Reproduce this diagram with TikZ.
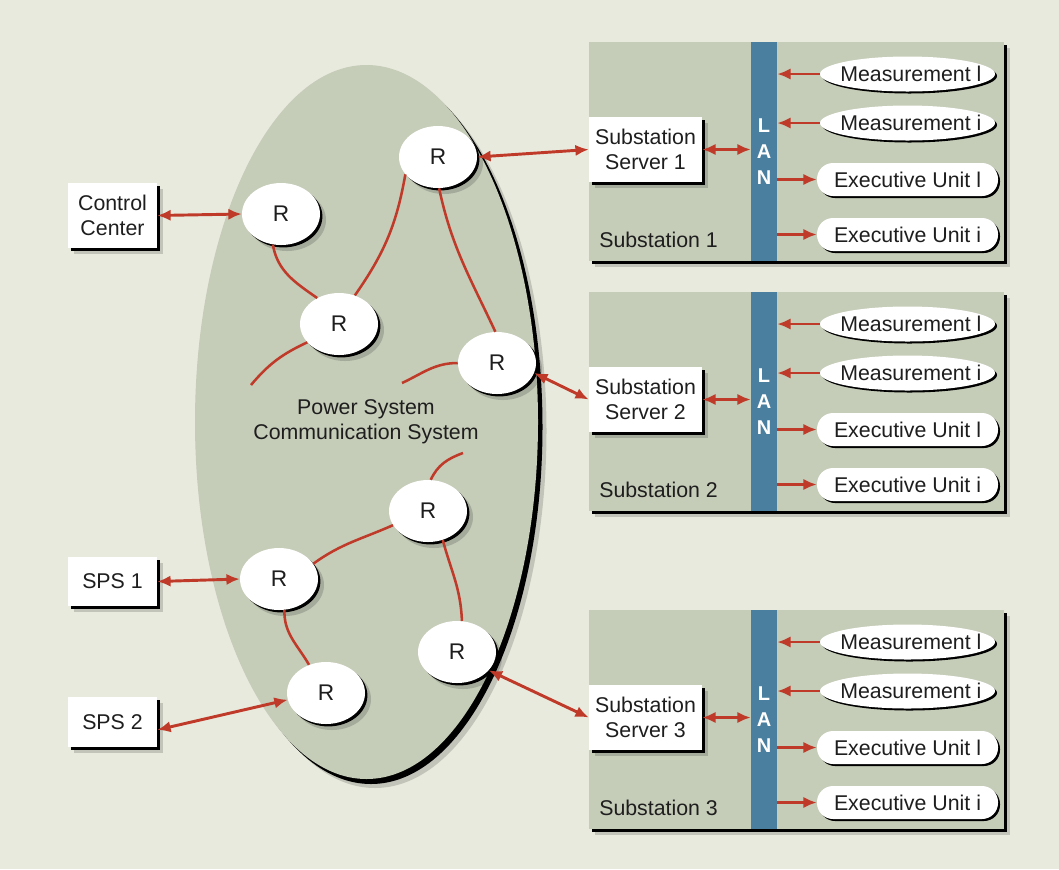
\documentclass[tikz,border=0pt]{standalone}
\usepackage{fontspec}
\setmainfont{Liberation Sans}
\usetikzlibrary{shapes.geometric,arrows.meta,shadows}
\definecolor{bgc}{RGB}{232,234,221}
\definecolor{grn}{RGB}{197,204,184}
\definecolor{lanc}{RGB}{74,127,160}
\definecolor{redc}{RGB}{192,58,42}
\definecolor{txt}{RGB}{30,30,30}
\newcommand\myfs{\fontsize{16}{18.75}\selectfont}
\tikzset{
  softsh/.style={drop shadow={shadow xshift=4.5pt,shadow yshift=-4.5pt,fill=black,opacity=0.16}},
  hardsh/.style={drop shadow={shadow xshift=#1,shadow yshift=-#1,fill=black,opacity=1}},
  rnode/.style={ellipse,fill=white,inner sep=0pt,minimum width=58.5pt,minimum height=46.5pt,
    font=\fontsize{17}{20}\selectfont,text=txt,softsh,hardsh=1.8pt},
  wbox/.style={rectangle,fill=white,inner sep=0pt,minimum width=66.75pt,align=center,
    font=\myfs,text=txt,softsh,hardsh=2.2pt},
  srvbox/.style={rectangle,fill=white,inner sep=0pt,minimum width=84.75pt,minimum height=48.75pt,
    align=center,font=\myfs,text=txt,softsh,hardsh=2.2pt},
  panel/.style={rectangle,fill=grn,inner sep=0pt,minimum width=311.25pt,minimum height=164.25pt,
    softsh,hardsh=2.2pt},
  lanbar/.style={rectangle,fill=lanc,inner sep=0pt,minimum width=19.5pt,minimum height=164.25pt,
    align=center,text=white,font=\fontsize{15}{19.5}\selectfont\bfseries},
  meas/.style={ellipse,fill=white,inner sep=0pt,minimum width=131.25pt,minimum height=26.25pt,
    hardsh=1.5pt,label={[font=\myfs,text=txt,xshift=2.5pt]center:#1}},
  exec/.style={rectangle,rounded corners=12pt,fill=white,inner sep=0pt,minimum width=135.75pt,
    minimum height=24.75pt,font=\myfs,text=txt,hardsh=1.5pt},
  lbl/.style={font=\myfs,text=txt,inner sep=0pt,align=center},
  link/.style={redc,line width=1.9pt},
  arr/.style={redc,line width=2.2pt,-{Latex[length=10pt,width=8.5pt]}},
  darr/.style={redc,line width=2.2pt,{Latex[length=10pt,width=8.5pt]}-{Latex[length=10pt,width=8.5pt]}},
}
\begin{document}
\begin{tikzpicture}[x=0.75pt,y=-0.75pt]
\useasboundingbox (0,0) rectangle (1059,869);
\fill[bgc] (0,0) rectangle (1059,869);

% big ellipse with shadows
\fill[black,opacity=0.16] (375,431) ellipse (171.5 and 357);
\fill[black] (371,427) ellipse (171.5 and 357);
\fill[grn] (366.5,422) ellipse (171.5 and 357);
\node[lbl] (pscs) at (366,422) {Power System\\Communication System};

% routers
\node[rnode] (Ra) at (281,214) {R};
\node[rnode] (Rb) at (438,157) {R};
\node[rnode] (Rc) at (339,324) {R};
\node[rnode] (Rd) at (497,363) {R};
\node[rnode] (Re) at (428,511) {R};
\node[rnode] (Rf) at (279,579) {R};
\node[rnode] (Rg) at (457,652) {R};
\node[rnode] (Rh) at (326,693) {R};
\coordinate (f1) at (251,385);
\coordinate (f2) at (402,383);
\coordinate (f3) at (463,453);

\draw[link] (Ra.-105) to[out=-80,in=145] (Rc.130);
\draw[link] (Rc.61) to[out=55,in=-100] (Rb.208);
\draw[link] (Rb.-88) to[out=-78,in=115] (Rd.93);
\draw[link] (Rc.210) to[out=205,in=50] (f1);
\draw[link] (Rd.180) to[out=180,in=25] (f2);
\draw[link] (f3) to[out=200,in=65] (Re.85);
\draw[link] (Re.202) to[out=204,in=36] (Rf.24);
\draw[link] (Re.-63) to[out=-75,in=92] (Rg.81);
\draw[link] (Rf.-80) to[out=-92,in=120] (Rh.121);

% left boxes
\node[wbox,minimum height=48.75pt] (cc) at (112.5,215.5) {Control\\Center};
\node[wbox,minimum height=36.75pt] (sps1) at (112.5,581.5) {SPS 1};
\node[wbox,minimum height=37.5pt] (sps2) at (112.5,722) {SPS 2};
\draw[darr] (cc.east) -- (Ra.west);
\draw[darr] (sps1.east) -- (Rf.west);
\draw[darr] (sps2.-10) -- (Rh.190);

% substations
\foreach \i/\T in {1/42,2/292,3/610}{
  \node[panel] (sub\i) at (796.5,\T+109.5) {};
  \node[lanbar] (lan\i) at (764,\T+109.5) {L\\A\\N};
  \node[srvbox] (srv\i) at (645.5,\T+107.5) {Substation\\Server \i};
  \node[lbl,anchor=west] (sl\i) at (599,\T+198) {Substation \i};
  \node[meas={Measurement l}] (ml\i) at (907.5,\T+32) {};
  \node[meas={Measurement i}] (mi\i) at (907.5,\T+81) {};
  \node[exec] (el\i) at (907.5,\T+137.5) {Executive Unit l};
  \node[exec] (ei\i) at (907.5,\T+192.5) {Executive Unit i};
  \draw[arr] (ml\i.west) -- (ml\i.west -| lan\i.east);
  \draw[arr] (mi\i.west) -- (mi\i.west -| lan\i.east);
  \draw[arr] (el\i.west -| lan\i.east) -- (el\i.west);
  \draw[arr] (ei\i.west -| lan\i.east) -- (ei\i.west);
  \draw[darr] (srv\i.east) -- (srv\i.east -| lan\i.west);
}
\draw[darr] (Rb.east) -- (srv1.west);
\draw[darr] (Rd.-15) -- (srv2.west);
\draw[darr] (Rg.-30) -- (srv3.west);
\end{tikzpicture}
\end{document}
